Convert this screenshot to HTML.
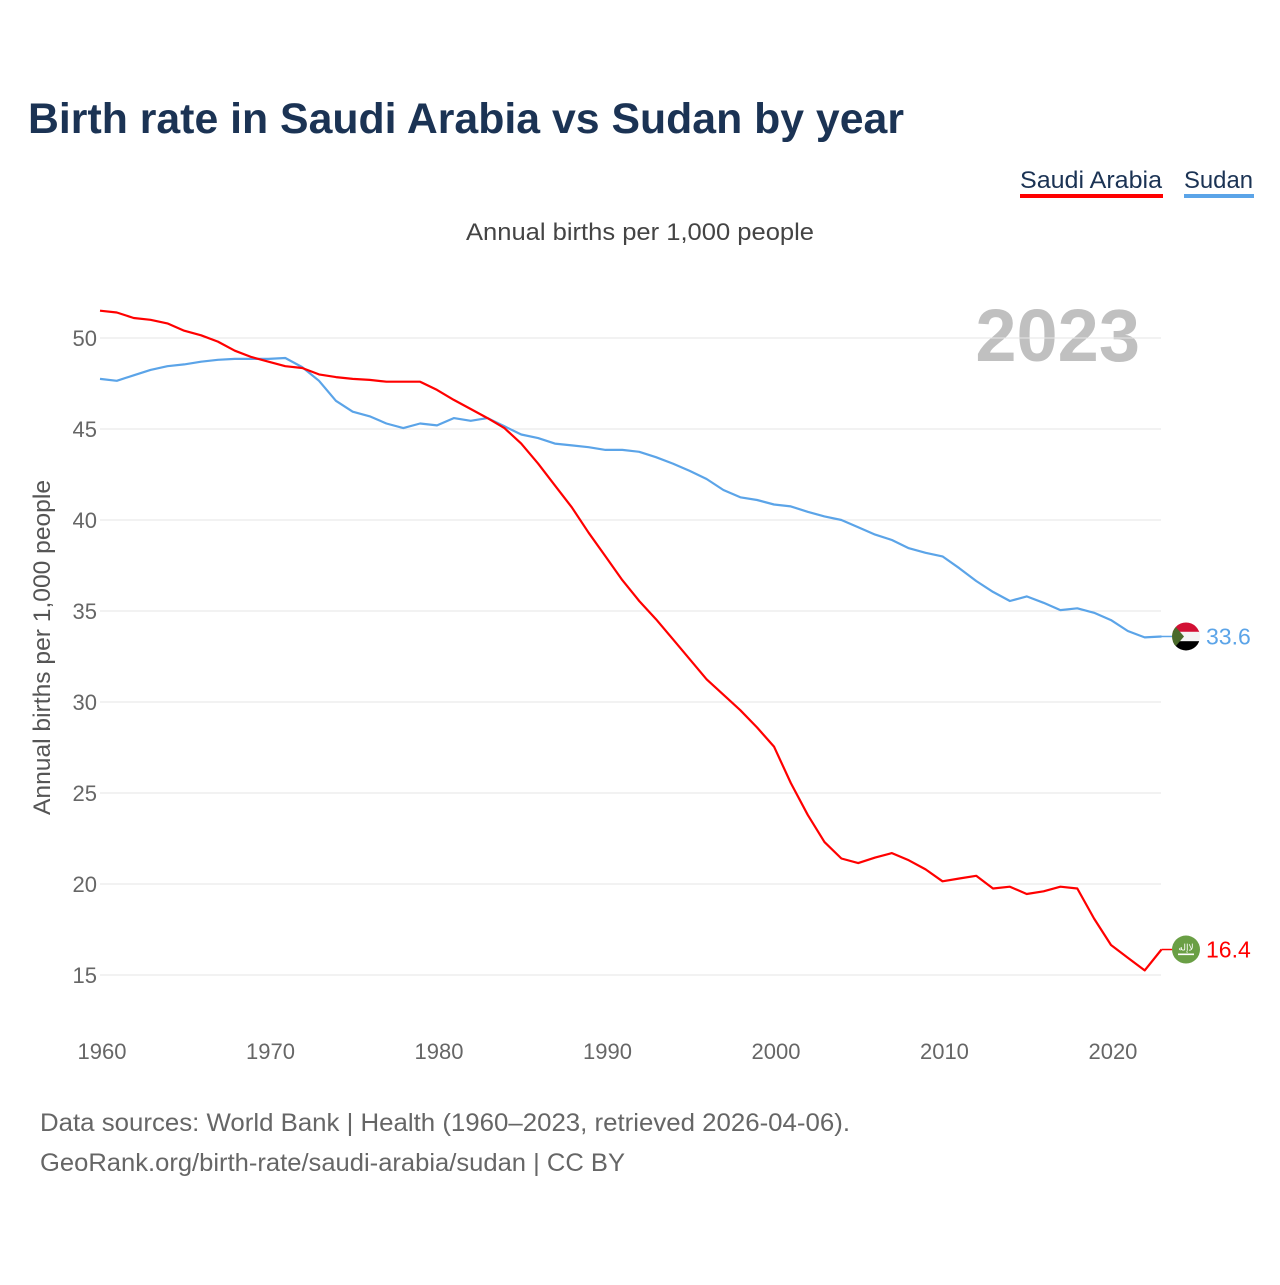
<!DOCTYPE html>
<html><head><meta charset="utf-8">
<style>
body{margin:0;background:#fff;font-family:"Liberation Sans",sans-serif;}
svg text{font-family:"Liberation Sans",sans-serif;}
</style></head>
<body>
<svg id="chart" width="1280" height="1280" xmlns="http://www.w3.org/2000/svg">
<rect width="1280" height="1280" fill="#fff"/>
<text x="28" y="133" font-size="43" font-weight="bold" fill="#1b3354" textLength="876" lengthAdjust="spacingAndGlyphs">Birth rate in Saudi Arabia vs Sudan by year</text>
<g>
<g>
<text x="1020" y="188" font-size="24" fill="#1b3354" textLength="142" lengthAdjust="spacingAndGlyphs">Saudi Arabia</text>
<rect x="1020" y="194" width="143" height="4" fill="#ff0000"/>
</g>
<g>
<text x="1184" y="188" font-size="24" fill="#1b3354" textLength="69" lengthAdjust="spacingAndGlyphs">Sudan</text>
<rect x="1184" y="194" width="70" height="4" fill="#5ba4e8"/>
</g>
</g>
<text x="466" y="240" font-size="24" fill="#444" textLength="348" lengthAdjust="spacingAndGlyphs">Annual births per 1,000 people</text>
<text x="1140" y="361" font-size="74" font-weight="bold" fill="#c0c0c0" text-anchor="end">2023</text>
<text transform="translate(50,815) rotate(-90)" font-size="24" fill="#555" textLength="335" lengthAdjust="spacingAndGlyphs">Annual births per 1,000 people</text>
<g id="grid"></g><g id="yticks"></g><g id="xticks"></g><g id="series"></g><g id="ends"></g>
<text x="40" y="1131" font-size="25" fill="#666" textLength="810" lengthAdjust="spacingAndGlyphs">Data sources: World Bank | Health (1960–2023, retrieved 2026-04-06).</text>
<text x="40" y="1171" font-size="25" fill="#666" textLength="585" lengthAdjust="spacingAndGlyphs">GeoRank.org/birth-rate/saudi-arabia/sudan | CC BY</text>
</svg>
<script>
const years = Array.from({length:64},(_,i)=>1960+i);
const saudiArabia = [51.5,51.4,51.1,51.0,50.8,50.4,50.15,49.8,49.3,48.95,48.7,48.45,48.35,48.0,47.85,47.75,47.7,47.6,47.6,47.6,47.15,46.6,46.1,45.6,45.05,44.2,43.1,41.9,40.7,39.3,38.0,36.7,35.55,34.55,33.45,32.35,31.25,30.4,29.55,28.6,27.55,25.55,23.8,22.3,21.4,21.15,21.45,21.7,21.3,20.8,20.15,20.3,20.45,19.75,19.85,19.45,19.6,19.85,19.75,18.1,16.65,15.95,15.25,16.4];
const sudan = [47.75,47.65,47.95,48.25,48.45,48.55,48.7,48.8,48.85,48.85,48.85,48.9,48.4,47.65,46.55,45.95,45.7,45.3,45.05,45.3,45.2,45.6,45.45,45.6,45.15,44.7,44.5,44.2,44.1,44.0,43.85,43.85,43.75,43.45,43.1,42.7,42.25,41.65,41.25,41.1,40.85,40.75,40.45,40.2,40.0,39.6,39.2,38.9,38.45,38.2,38.0,37.35,36.65,36.05,35.55,35.8,35.45,35.05,35.15,34.9,34.5,33.9,33.55,33.6];
const yTicks = [15,20,25,30,35,40,45,50];
const xTicks = [1960,1970,1980,1990,2000,2010,2020];

const NS="http://www.w3.org/2000/svg";
const X = y => 100 + (y-1960)*(1061.5/63);
const Y = v => 338 + (50-v)*18.2;
function mk(tag, attrs, parent){const e=document.createElementNS(NS,tag);for(const k in attrs)e.setAttribute(k,attrs[k]);document.getElementById(parent).appendChild(e);return e;}

yTicks.forEach(t=>{
  const g=mk('line',{x1:100,x2:1161,y1:Y(t),y2:Y(t),stroke:'#e6e6e6','stroke-width':1},'grid');
  
  
  const l=mk('text',{x:97,y:Y(t)+8,'font-size':22,fill:'#666','text-anchor':'end'},'yticks');
  l.textContent=t;
  
  
});
xTicks.forEach(t=>{
  const l=mk('text',{x:X(t)+2,y:1059,'font-size':22,fill:'#666','text-anchor':'middle'},'xticks');
  l.textContent=t;
  
  
});
function line(vals,color,name){
  const d=vals.map((v,i)=>(i?'L':'M')+X(years[i]).toFixed(1)+' '+Y(v).toFixed(1)).join(' ');
  const p=mk('path',{d:d,fill:'none',stroke:color,'stroke-width':2.2,'stroke-linejoin':'round'},'series');
  
  
}
line(sudan,'#5ba4e8','sudan-line');
line(saudiArabia,'#ff0000','saudi-arabia-line');

function endMark(vals,color,name,flag){
  const v=vals[vals.length-1], y=Y(v), cx=1186;
  mk('line',{x1:X(2023),x2:cx-14,y1:y,y2:y,stroke:color,'stroke-width':1.5},'ends');
  const g=document.createElementNS(NS,'g');
  
  
  document.getElementById('ends').appendChild(g);
  if(flag==='sd'){
    g.innerHTML=`<defs><clipPath id="c1"><circle cx="${cx}" cy="${y}" r="14"/></clipPath></defs>
    <g clip-path="url(#c1)"><rect x="${cx-14}" y="${y-14}" width="28" height="10" fill="#d21034"/>
    <rect x="${cx-14}" y="${y-4.7}" width="28" height="9.4" fill="#f4f4f4"/>
    <rect x="${cx-14}" y="${y+4.7}" width="28" height="10" fill="#000"/>
    <polygon points="${cx-14},${y-14} ${cx-2},${y} ${cx-14},${y+14}" fill="#4a6a2a"/></g>`;
  } else {
    g.innerHTML=`<circle cx="${cx}" cy="${y}" r="14" fill="#6a9f45"/>
    <text x="${cx}" y="${y+1}" font-size="9" fill="#fff" text-anchor="middle">ﻻإله</text>
    <rect x="${cx-8}" y="${y+4}" width="16" height="1.6" fill="#fff"/>`;
  }
  const t=mk('text',{x:1206,y:y+8,'font-size':23,fill:color},'ends');
  t.textContent=v.toFixed(1);
  
  
}
endMark(sudan,'#5ba4e8','sudan','sd');
endMark(saudiArabia,'#ff0000','saudi-arabia','sa');
</script>
</body></html>
